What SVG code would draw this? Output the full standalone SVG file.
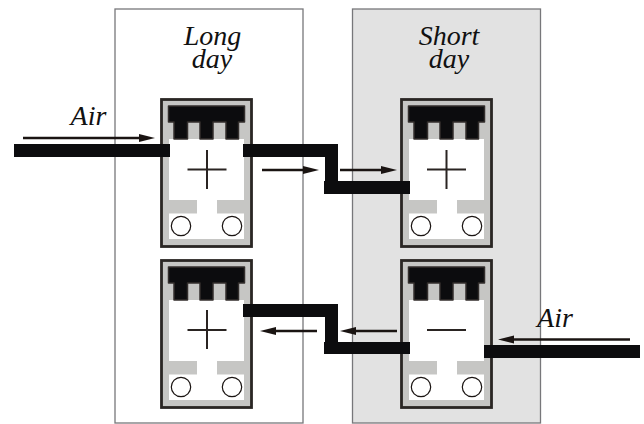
<svg xmlns="http://www.w3.org/2000/svg" width="644" height="424" viewBox="0 0 644 424">
<style>
.panel{stroke:#77777a;stroke-width:1.3}
.t{font-family:"Liberation Serif",serif;font-style:italic;font-size:28px;fill:#111;text-anchor:middle}
.pipe{fill:#0c0c0e}
.arrow{stroke:#1a1412;stroke-width:2.4;fill:none}
.head{fill:#1a1412}
.body{fill:#c6c6c4;stroke:#2a2624;stroke-width:2.8}
.w{fill:#fff}
.k{fill:#0c0c0e;stroke:#332e2c;stroke-width:1.500;stroke-linejoin:round}
.c{fill:#fff;stroke:#1a1412;stroke-width:1.200}
.s{stroke:#2a2422;stroke-width:2;fill:none}
</style>
<defs>
<g id="unit">
<rect class="body" x="1.500" y="0.500" width="90" height="147"/>
<rect class="w" x="9" y="40" width="75" height="61"/>
<rect class="w" x="37" y="100" width="20" height="15"/>
<rect class="w" x="9" y="114.500" width="75" height="25.500"/>
<path class="k" d="M8.500 7H84.500V23H78.500V40H66V23H53V40H40V23H27.500V40H14V23H8.500Z"/>
<circle class="c" cx="21" cy="127" r="9.700"/>
<circle class="c" cx="72" cy="127" r="9.700"/>
</g>
</defs>
<g id="panels">
<rect class="panel" x="115" y="9" width="188" height="414" fill="#fff"/>
<rect class="panel" x="352.500" y="9" width="188" height="414" fill="#e2e2e2"/>
</g>
<g id="node-long-top"><use href="#unit" x="160" y="99"/><path class="s" d="M187.500 169.500H226.500M207 150V189"/></g>
<g id="node-short-top"><use href="#unit" x="400" y="99"/><path class="s" d="M427 169.500H466M446.500 150V189"/></g>
<g id="node-long-bottom"><use href="#unit" x="160" y="260"/><path class="s" d="M187.500 330H226.500M207 310V349"/></g>
<g id="node-short-bottom"><use href="#unit" x="400" y="260"/><path class="s" d="M427 330H466"/></g>
<g id="connectors">
<rect class="pipe" x="14" y="144" width="156" height="13"/>
<path class="pipe" d="M243 144H338V181H410V194H324V181H325V157H243Z"/>
<path class="pipe" d="M243 304H338V342H410V354H324V342H325V317H243Z"/>
<rect class="pipe" x="484" y="345" width="156" height="13"/>
<g>
<path class="arrow" d="M23 138H145"/><path class="head" d="M155 138L139 134V142Z"/>
<path class="arrow" d="M262 170H309"/><path class="head" d="M319 170L303 166V174Z"/>
<path class="arrow" d="M340 170H387"/><path class="head" d="M397 170L381 166V174Z"/>
<path class="arrow" d="M270 331H317"/><path class="head" d="M260 331L276 327V335Z"/>
<path class="arrow" d="M350 331H397"/><path class="head" d="M340 331L356 327V335Z"/>
<path class="arrow" d="M508 339.500H630"/><path class="head" d="M498 339.500L514 335.500V343.500Z"/>
</g>
</g>
<g id="labels">
<text class="t" x="212.500" y="45">Long</text>
<text class="t" x="212" y="68">day</text>
<text class="t" x="449" y="45">Short</text>
<text class="t" x="449" y="68">day</text>
<text class="t" x="88.500" y="125">Air</text>
<text class="t" x="555" y="326.500">Air</text>
</g>
</svg>
